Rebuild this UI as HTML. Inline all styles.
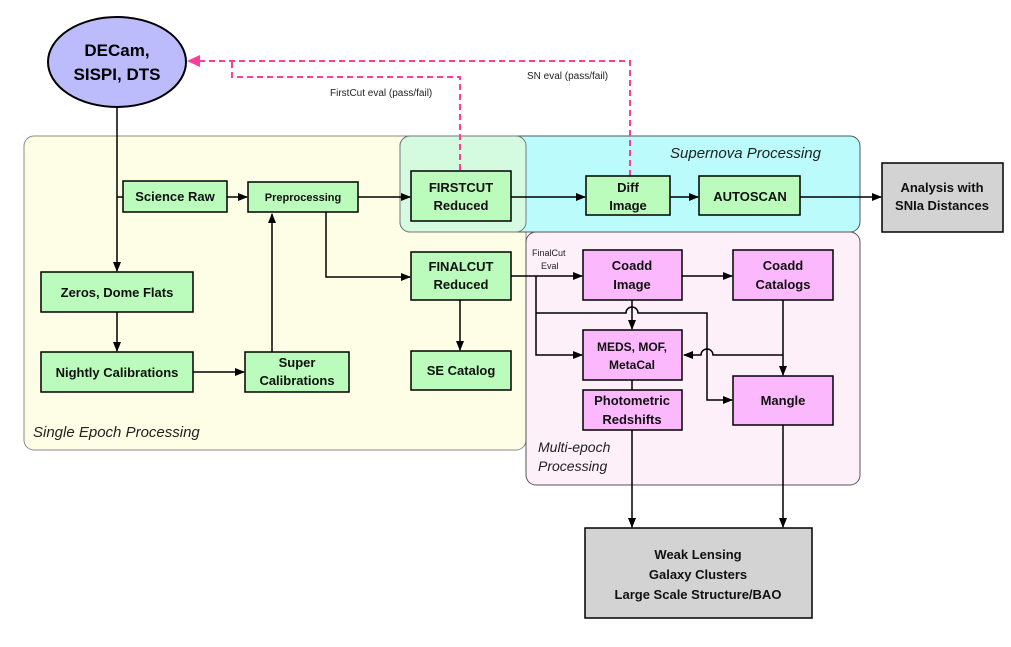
<!DOCTYPE html>
<html><head><meta charset="utf-8"><style>
body{margin:0;background:#fff}
svg text{font-family:"Liberation Sans",sans-serif}
.b{font-size:13px;font-weight:bold;fill:#111}
</style></head><body>
<svg width="1011" height="642" viewBox="0 0 1011 642" xmlns="http://www.w3.org/2000/svg">
<defs>
<marker id="a" markerWidth="10" markerHeight="8" refX="9" refY="4" orient="auto" markerUnits="userSpaceOnUse"><path d="M0,0 L10,4 L0,8z" fill="#000"/></marker>
<marker id="p" markerWidth="14" markerHeight="12" refX="12" refY="6" orient="auto" markerUnits="userSpaceOnUse"><path d="M0,0 L13,6 L0,12z" fill="#ff3d9a"/></marker>
</defs>
<rect x="24" y="136" width="502" height="314" rx="10" fill="#fefee6" stroke="#888"/>
<rect x="400" y="136" width="460" height="96" rx="10" fill="#bbfbfb" stroke="#555"/>
<rect x="526" y="232" width="334" height="253" rx="10" fill="#fdf0f8" stroke="#555"/>
<rect x="400" y="136" width="126" height="96" rx="10" fill="#d4fbe0" stroke="#777"/>
<text x="33" y="437" font-size="15" font-style="italic" fill="#222">Single Epoch Processing</text>
<text x="670" y="158" font-size="15" font-style="italic" fill="#222">Supernova Processing</text>
<text x="538" y="452" font-size="14" font-style="italic" fill="#222">Multi-epoch</text>
<text x="538" y="471" font-size="14" font-style="italic" fill="#222">Processing</text>
<g fill="none" stroke="#ff3d9a" stroke-width="2" stroke-dasharray="6,4">
<path d="M630,176 L630,61 L188,61" marker-end="url(#p)"/>
<path d="M460,170 L460,77 L232,77 L232,61"/>
</g>
<text x="330" y="96" font-size="10" fill="#222">FirstCut eval (pass/fail)</text>
<text x="527" y="79" font-size="10" fill="#222">SN eval (pass/fail)</text>
<ellipse cx="117" cy="62" rx="69" ry="45" fill="#bcbcfc" stroke="#000" stroke-width="2"/>
<text x="117" y="56" text-anchor="middle" font-size="17" font-weight="bold">DECam,</text>
<text x="117" y="80" text-anchor="middle" font-size="17" font-weight="bold">SISPI, DTS</text>
<g fill="none" stroke="#000" stroke-width="1.5">
<path d="M117,107 L117,271" marker-end="url(#a)"/>
<path d="M117,197 L123,197"/>
<path d="M227,197 L247,197" marker-end="url(#a)"/>
<path d="M358,197 L410,197" marker-end="url(#a)"/>
<path d="M326,212 L326,277 L410,277" marker-end="url(#a)"/>
<path d="M272,352 L272,214" marker-end="url(#a)"/>
<path d="M117,312 L117,351" marker-end="url(#a)"/>
<path d="M193,372 L244,372" marker-end="url(#a)"/>
<path d="M460,300 L460,350" marker-end="url(#a)"/>
<path d="M511,197 L585,197" marker-end="url(#a)"/>
<path d="M670,197 L698,197" marker-end="url(#a)"/>
<path d="M800,197 L881,197" marker-end="url(#a)"/>
<path d="M511,276 L582,276" marker-end="url(#a)"/>
<path d="M536,276 L536,355 L582,355" marker-end="url(#a)"/>
<path d="M536,313 L626,313 A6,6 0 0 1 638,313 L707,313 L707,400 L732,400" marker-end="url(#a)"/>
<path d="M632,300 L632,329" marker-end="url(#a)"/>
<path d="M682,276 L732,276" marker-end="url(#a)"/>
<path d="M783,300 L783,375" marker-end="url(#a)"/>
<path d="M783,355 L713,355 A6,6 0 0 0 701,355 L684,355" marker-end="url(#a)"/>
<path d="M632,380 L632,390"/>
<path d="M632,430 L632,527" marker-end="url(#a)"/>
<path d="M783,425 L783,527" marker-end="url(#a)"/>
</g>
<text x="532" y="256" font-size="9" fill="#222">FinalCut</text>
<text x="541" y="269" font-size="9" fill="#222">Eval</text>
<g stroke="#000" stroke-width="1.5">
<rect x="123" y="181" width="104" height="31" fill="#bbfbbb"/>
<rect x="248" y="182" width="110" height="30" fill="#bbfbbb"/>
<rect x="411" y="171" width="100" height="50" fill="#bbfbbb"/>
<rect x="586" y="176" width="84" height="39" fill="#bbfbbb"/>
<rect x="699" y="176" width="101" height="39" fill="#bbfbbb"/>
<rect x="882" y="163" width="121" height="69" fill="#d3d3d3"/>
<rect x="41" y="272" width="152" height="40" fill="#bbfbbb"/>
<rect x="41" y="352" width="152" height="40" fill="#bbfbbb"/>
<rect x="245" y="352" width="104" height="40" fill="#bbfbbb"/>
<rect x="411" y="252" width="100" height="48" fill="#bbfbbb"/>
<rect x="411" y="351" width="100" height="39" fill="#bbfbbb"/>
<rect x="583" y="250" width="99" height="50" fill="#fcb8fc"/>
<rect x="733" y="250" width="100" height="50" fill="#fcb8fc"/>
<rect x="583" y="330" width="99" height="50" fill="#fcb8fc"/>
<rect x="583" y="390" width="99" height="40" fill="#fcb8fc"/>
<rect x="733" y="376" width="100" height="49" fill="#fcb8fc"/>
<rect x="585" y="528" width="227" height="90" fill="#d3d3d3"/>
</g>
<g class="b" text-anchor="middle">
<text x="175" y="201" class="b">Science Raw</text>
<text x="303" y="201" class="b" style="font-size:11px">Preprocessing</text>
<text x="461" y="192" class="b">FIRSTCUT</text><text x="461" y="210" class="b">Reduced</text>
<text x="628" y="192" class="b">Diff</text><text x="628" y="210" class="b">Image</text>
<text x="750" y="201" class="b">AUTOSCAN</text>
<text x="942" y="192" class="b">Analysis with</text><text x="942" y="210" class="b">SNIa Distances</text>
<text x="117" y="297" class="b">Zeros, Dome Flats</text>
<text x="117" y="377" class="b">Nightly Calibrations</text>
<text x="297" y="367" class="b">Super</text><text x="297" y="385" class="b">Calibrations</text>
<text x="461" y="271" class="b">FINALCUT</text><text x="461" y="289" class="b">Reduced</text>
<text x="461" y="375" class="b">SE Catalog</text>
<text x="632" y="270" class="b">Coadd</text><text x="632" y="289" class="b">Image</text>
<text x="783" y="270" class="b">Coadd</text><text x="783" y="289" class="b">Catalogs</text>
<text x="632" y="351" class="b" style="font-size:12px">MEDS, MOF,</text><text x="632" y="369" class="b" style="font-size:12px">MetaCal</text>
<text x="632" y="405" class="b">Photometric</text><text x="632" y="424" class="b">Redshifts</text>
<text x="783" y="405" class="b">Mangle</text>
<text x="698" y="559" class="b">Weak Lensing</text>
<text x="698" y="579" class="b">Galaxy Clusters</text>
<text x="698" y="599" class="b">Large Scale Structure/BAO</text>
</g>
</svg>
</body></html>
